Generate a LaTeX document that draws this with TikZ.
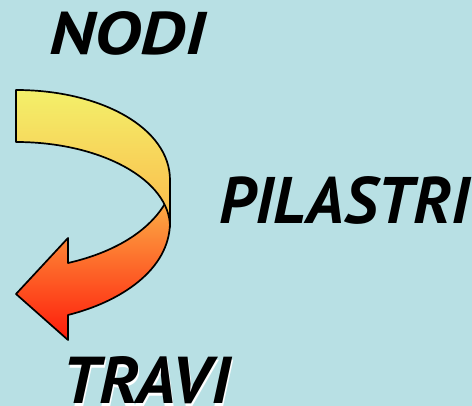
\documentclass[tikz,border=0pt]{standalone}
\usepackage{fontspec}
\usepackage{graphicx}
\setmainfont{PT Sans}
\definecolor{bgblue}{HTML}{B8E0E4}
\definecolor{ylwTop}{HTML}{F3F06A}
\definecolor{ylwMid}{HTML}{F5DE5E}
\definecolor{ylwBot}{HTML}{FCB84A}
\definecolor{orgTop}{HTML}{FBC24E}
\definecolor{orgMid}{HTML}{FF8A38}
\definecolor{orgBot}{HTML}{FF1A0A}
% word set in bold italic, stretched to a given width and cap height
\newcommand{\capword}[3]{\resizebox{#1}{#2}{\bfseries\itshape #3}}
\tikzset{
  band/.style={draw=black, line width=1.7pt, line join=round},
  label/.style={inner sep=0pt, anchor=base west, font=\fontsize{60}{60}\selectfont}
}
\begin{document}
\begin{tikzpicture}[x=1pt, y=-1pt]
  \useasboundingbox (0,0) rectangle (472,406);
  \fill[bgblue] (0,0) rectangle (472,406);

  % lower part of the curved arrow, with its head pointing left
  \shade[band, top color=orgTop, middle color=orgMid, bottom color=orgBot]
    (170,182) -- (170,222)
    .. controls (170,270) and (120,302) .. (68,315)
    -- (68,340) -- (16,294) -- (68,238) -- (68,263)
    .. controls (112,253) and (150,232) .. (167,200) -- cycle;

  % upper band, lying over the start of the lower part
  \shade[band, top color=ylwTop, middle color=ylwMid, bottom color=ylwBot]
    (16,90) .. controls (101,90) and (170,128) .. (170,180)
    -- (170,227)
    .. controls (170,180) and (101,142) .. (16,142) -- cycle;

  \node[label] (nodi) at (49,55) {\capword{156pt}{43pt}{NODI}};
  \node[label] (pilastri) at (219,224) {\capword{250pt}{47pt}{PILASTRI}};
  \node[label, white] (traviShadow) at (63,406.5) {\capword{168pt}{47pt}{TRAVI}};
  \node[label] (travi) at (62,404) {\capword{168pt}{47pt}{TRAVI}};
\end{tikzpicture}
\end{document}
